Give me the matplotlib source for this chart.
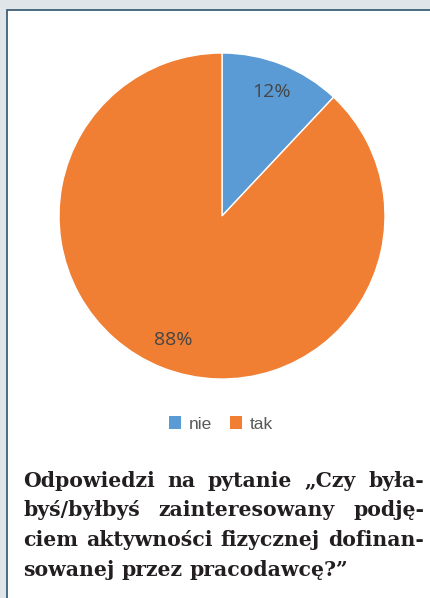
import matplotlib
matplotlib.use("Agg")
import matplotlib.pyplot as plt
from matplotlib.patches import Rectangle, Patch

# ---- data ----
categories = ["nie", "tak"]
shares = [12, 88]
colors = ["#5b9bd5", "#f07e33"]
caption_lines = [
    "Odpowiedzi na pytanie „Czy była-",
    "byś/byłbyś zainteresowany podję-",
    "ciem aktywności fizycznej dofinan-",
    "sowanej przez pracodawcę?”",
]

W, H = 430, 598
fig = plt.figure(figsize=(W / 100, H / 100), dpi=100)
fig.patch.set_facecolor("#dfe5e8")

# white panel with thin border (left/top visible)
panel = Rectangle((7 / W, -0.02), 1.05, (H - 10) / H + 0.02,
                  transform=fig.transFigure, facecolor="white",
                  edgecolor="#3d6079", linewidth=1.3, zorder=0)
fig.add_artist(panel)

# ---- pie ----
cx, cy, r = 222, 216, 163
ax = fig.add_axes([(cx - r) / W, (H - cy - r) / H, 2 * r / W, 2 * r / H])
wedges, texts, autotexts = ax.pie(
    shares, colors=colors, startangle=90, counterclock=False,
    autopct="%1.0f%%", pctdistance=0.82,
    wedgeprops=dict(linewidth=1.0, edgecolor="white"),
    textprops=dict(color="#454545", fontsize=14, family=["Open Sans", "DejaVu Sans"]),
)
ax.set_xlim(-1.0, 1.0)
ax.set_ylim(-1.0, 1.0)
ax.set_aspect("equal")
ax.axis("off")

# ---- legend ----
handles = [Patch(facecolor=c, edgecolor="none") for c in colors]
fig.legend(handles, categories, loc="center", bbox_to_anchor=(221 / W, 1 - 424 / H),
           ncol=2, frameon=False, handlelength=0.7, handleheight=0.7,
           handletextpad=0.45, columnspacing=1.0,
           prop=dict(family=["Liberation Sans Narrow", "Liberation Sans"], size=12.5),
           labelcolor="#595959")

# ---- caption, justified ----
renderer = fig.canvas.get_renderer()
cap_font = dict(family=["DejaVu Serif"], weight="bold", color="#231f20")
x0, x1 = 23, 424
baselines = [487, 516.5, 546, 575.5]


def measure(s, fs):
    t = fig.text(0, 0, s, fontsize=fs, **cap_font)
    w = t.get_window_extent(renderer).width
    t.remove()
    return w

# fit size so the densest line (3rd) fills the width with small gaps
fs = 12.0
dense = caption_lines[2].split(" ")
natural = sum(measure(w, fs) for w in dense)
fs = fs * (x1 - x0 - 3 * 9) / natural
space = measure("a a", fs) - measure("aa", fs)

for i, (line, yb) in enumerate(zip(caption_lines, baselines)):
    words = line.split(" ")
    widths = [measure(w, fs) for w in words]
    last = i == len(caption_lines) - 1
    gap = space if last else (x1 - x0 - sum(widths)) / (len(words) - 1)
    x = x0
    for wd, wdw in zip(words, widths):
        fig.text(x / W, 1 - yb / H, wd, fontsize=fs, ha="left", va="baseline", **cap_font)
        x += wdw + gap

fig.savefig("out.png", dpi=100, facecolor=fig.get_facecolor())
